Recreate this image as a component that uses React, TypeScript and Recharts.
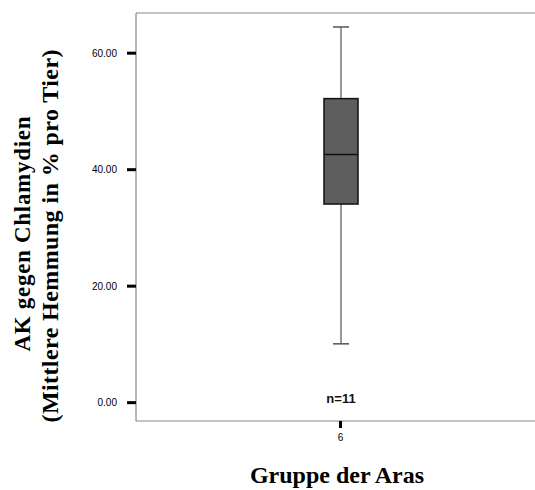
import { ComposedChart, Bar, XAxis, YAxis, ReferenceLine } from 'recharts';

// Boxplot of one group
const groups = ['6'];
const whiskerLow = [10.1];
const quartile1 = [34.1];
const medians = [42.6];
const quartile3 = [52.2];
const whiskerHigh = [64.5];
const counts = [11];

const yTicks = [0, 20, 40, 60];
const yDomain = [-3.15, 66.9];

const data = groups.map((g, i) => ({
  group: g,
  box: [quartile1[i], quartile3[i]],
  min: whiskerLow[i],
  q1: quartile1[i],
  median: medians[i],
  q3: quartile3[i],
  max: whiskerHigh[i],
  n: counts[i],
}));

const AXIS_GREY = '#858585';
const SERIF = '"Liberation Serif", "Times New Roman", serif';
const SANS = '"Liberation Sans", Arial, sans-serif';

function BoxShape(props: any) {
  const { x, y, width, height, payload } = props;
  const top = Math.min(y, y + height);
  const h = Math.abs(height);
  // pixels per unit from the bar the library laid out
  const ratio = h / (payload.q3 - payload.q1);
  const toY = (v: number) => top + (payload.q3 - v) * ratio;
  const cx = x + width / 2;
  const cap = 8;
  return (
    <g>
      <line x1={cx} x2={cx} y1={toY(payload.max)} y2={top} stroke="#777" strokeWidth={1.5} />
      <line x1={cx} x2={cx} y1={top + h} y2={toY(payload.min)} stroke="#777" strokeWidth={1.5} />
      <line x1={cx - cap} x2={cx + cap} y1={toY(payload.max)} y2={toY(payload.max)} stroke="#555" strokeWidth={1.5} />
      <line x1={cx - cap} x2={cx + cap} y1={toY(payload.min)} y2={toY(payload.min)} stroke="#555" strokeWidth={1.5} />
      <rect x={x} y={top} width={width} height={h} fill="#5e5e5e" stroke="#111" strokeWidth={1.5} />
      <line x1={x} x2={x + width} y1={toY(payload.median)} y2={toY(payload.median)} stroke="#111" strokeWidth={1.5} />
      <text
        x={cx}
        y={toY(0)}
        textAnchor="middle"
        fontFamily={SANS}
        fontWeight="bold"
        fontSize={13}
        fill="#111"
      >
        {`n=${payload.n}`}
      </text>
    </g>
  );
}

function YTitle() {
  return (
    <g fontFamily={SERIF} fontWeight="bold" fill="#000">
      <text
        transform="translate(30,234) rotate(-90)"
        textAnchor="middle"
        fontSize={23}
        textLength={235}
        lengthAdjust="spacing"
      >
        AK gegen Chlamydien
      </text>
      <text
        transform="translate(58,236) rotate(-90)"
        textAnchor="middle"
        fontSize={24}
        textLength={373}
        lengthAdjust="spacing"
      >
        (Mittlere Hemmung in % pro Tier)
      </text>
    </g>
  );
}

function XTitle() {
  return (
    <text x={337} y={483} textAnchor="middle" fontFamily={SERIF} fontWeight="bold" fontSize={24} fill="#000">
      Gruppe der Aras
    </text>
  );
}

export default function App() {
  return (
    <div style={{ width: 535, height: 490, background: '#fff' }}>
      <style>{'body { margin: 0; }'}</style>
      <ComposedChart width={535} height={490} data={data} margin={{ top: 13, right: 0, bottom: 0, left: 0 }}>
        <XAxis
          dataKey="group"
          height={69}
          padding={{ left: 10, right: 0 }}
          axisLine={{ stroke: AXIS_GREY, strokeWidth: 1.2 }}
          tickLine={{ stroke: '#000', strokeWidth: 3 }}
          tickSize={7}
          tickMargin={6}
          tick={{ fontFamily: SANS, fontSize: 10, fill: '#000' }}
          label={{ content: () => <XTitle /> }}
        />
        <YAxis
          type="number"
          width={136}
          domain={yDomain}
          ticks={yTicks}
          allowDataOverflow
          tickFormatter={(v: number) => v.toFixed(2)}
          axisLine={{ stroke: AXIS_GREY, strokeWidth: 1.2 }}
          tickLine={{ stroke: '#000', strokeWidth: 3 }}
          tickSize={9}
          tickMargin={10}
          tick={{ fontFamily: SANS, fontSize: 10, fill: '#000' }}
          label={{ content: () => <YTitle /> }}
        />
        <ReferenceLine y={yDomain[1]} stroke={AXIS_GREY} strokeWidth={1.2} />
        <Bar dataKey="box" barSize={34} shape={BoxShape} isAnimationActive={false} />
      </ComposedChart>
    </div>
  );
}
